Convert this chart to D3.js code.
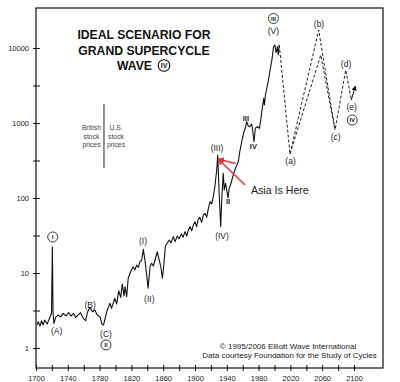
<!DOCTYPE html>
<html><head><meta charset="utf-8">
<script src="https://cdn.jsdelivr.net/npm/d3@7"></script>
<style>
body{margin:0;background:#fff}
svg{display:block}
text{font-family:"Liberation Sans",Arial,Helvetica,sans-serif}
</style>
</head><body>
<svg id="c" width="400" height="382"></svg>
<script>
// ---- data ----
const years = [1701,1703,1705,1707,1709,1711,1714,1717,1719.5,1720.6,1721.4,1722.5,1725,1728,1731,1734,1738,1741,1744,1747,1750,1753,1756,1759.5,1762.5,1765,1768,1771,1774,1777,1780.5,1783,1785,
 1789,1793,1795,1799,1801.5,1804,1806.5,1808.6,1810.6,1812,1814,1816,1819,1822,1824.5,1826.6,1828.7,1830.8,1833,1835,1837,1839,1841,1843.4,1845.5,1847.6,1849.7,1852.6,1855,1857,1859,1861,1862.7,1865,1867.7,1869.8,1872.7,1875,1877.8,1880,1883,
 1885,1887.5,1889.6,1891.6,1893.7,1895.8,1898,1900,1902,1904,1906,1908.4,1910.5,1912.6,1914.7,1916.8,1919,1921,1923,1925,1927.3,1928.6,1930.2,1932.3,1933.8,1935.5,1936.8,1938.5,1941.5,1943,1945.3,1947.4,1949.5,1951.6,1954.5,1956.6,1958.7,1961.6,1963.3,1965,1967,1969,1971.3,1972.5,1974.2,1975.9,1978.4,1981,1982.7,1984.3,1985.2,1986.5,1987.3,1988.6,1990.3,1992.4,1994.5,1996.7,1998.7,2000.4,2002,2003.6,2004.8,2006];
const values = [2.03,2.24,1.96,2.31,2.03,2.36,2.09,2.49,2.9,22.4,3.0,2.13,2.6,2.75,2.6,2.9,2.67,2.96,2.67,2.9,2.56,2.75,2.96,2.49,2.31,3.05,3.48,3.05,3.21,2.75,2.6,2.09,2.03,
 3.05,3.95,3.38,4.6,3.86,5.8,4.74,7.13,4.93,6.57,4.83,8.5,10.4,12.1,11,12.8,11.9,14.2,14.9,20.7,14.9,9.9,6.25,12.1,13.5,12.4,14.9,19.2,14.9,12.1,8.5,13.5,22.9,24.9,27.5,25.3,30.5,26.2,31.1,28.7,33.1,
 29.9,35.6,31.1,37.4,41.5,36.6,43.6,48.3,41.5,52,55.1,47.3,59.2,62.5,55.1,72.8,89.3,83.2,104,142,236,374,128,41.4,104,213,128,157,100,135,157,192,224,262,305,430,560,766,850,1042,912,893,970,807,563,850,893,850,1096,1490,1738,2133,1738,2362,2897,3744,5093,6918,10216,10965,8670,10418,8070,10965];

const projYears  = [2006, 2019.5, 2055.6, 2076.1, 2089.6, 2096.6];
const projValues = [10965, 386, 17380, 807, 5093, 2026];
const altYears   = [2019.5, 2058.2, 2076.1];
const altValues  = [386, 8070, 807];
const arrowYears  = [2096.6, 2101.7];
const arrowValues = [2026, 3113];

const yTickValues = [1, 10, 100, 1000, 10000];
const yMinorTicks = [3.162, 31.62, 316.2, 3162];
const xTickValues = d3.range(1700, 2101, 20);
const xLabelYears = [1700,1740,1780,1820,1860,1900,1940,1980,2020,2060,2100];

const waveLabels = [
 {t:"(A)",year:1726,value:1.66},{t:"(B)",year:1768,value:3.74},{t:"(C)",year:1788,value:1.54},
 {t:"(I)",year:1834.6,value:26.7},{t:"(II)",year:1842.5,value:4.5},{t:"(III)",year:1927.7,value:464},
 {t:"(IV)",year:1934,value:31.1},{t:"(V)",year:1998.7,value:16870},
 {t:"(a)",year:2020.2,value:311},{t:"(b)",year:2056,value:20900},{t:"(c)",year:2077,value:650},
 {t:"(d)",year:2090,value:6120},{t:"(e)",year:2097,value:1634}
];
const smallLabels = [{t:"II",year:1941.5,value:91.2},{t:"III",year:1964,value:1166},{t:"IV",year:1973.4,value:494}];
const circledLabels = [{t:"I",year:1721,value:30.2},{t:"II",year:1788,value:1.1},{t:"III",year:1998.7,value:24730},{t:"IV",year:2097.8,value:1096}];

const asiaArrowTip = {year:1929, value:331};
const asiaArrowTails = [{year:1963,value:149},{year:1951,value:288}];
const dividerYear = 1785.5, dividerValues = [1792, 251];

// ---- layout ----
const svg = d3.select("#c");
const L=36, R=383, T=8, B=368;
const x = d3.scaleLinear().domain([1700,2100]).range([36,354]);
const y = d3.scaleLog().domain([1,10000]).range([348,48]);

svg.append("rect").attr("x",L).attr("y",T).attr("width",R-L).attr("height",B-T)
  .attr("fill","none").attr("stroke","#111").attr("stroke-width",1.2);

// y axis
const yAx = svg.append("g").attr("transform",`translate(${L},0)`)
  .call(d3.axisLeft(y).tickValues(yTickValues.concat(yMinorTicks)).tickSize(3)
  .tickFormat(d => yTickValues.includes(d) ? d3.format("d")(d) : ""));
yAx.select(".domain").remove();
yAx.selectAll(".tick line").attr("x1",4).attr("x2",-3).attr("stroke","#111");
yAx.selectAll(".tick text").attr("x",-7).attr("font-size",7.5).attr("fill","#222")
  .attr("font-family","Liberation Sans, Arial, sans-serif");

// x axis
const xAx = svg.append("g").attr("transform",`translate(0,${B})`)
  .call(d3.axisBottom(x).tickValues(xTickValues).tickSize(3)
  .tickFormat(d => xLabelYears.includes(d) ? String(d) : ""));
xAx.select(".domain").remove();
xAx.selectAll(".tick line").attr("y1",-3).attr("y2",3).attr("stroke","#111");
xAx.selectAll(".tick text").attr("y",8).attr("font-size",7.5).attr("fill","#222")
  .attr("font-family","Liberation Sans, Arial, sans-serif");

// series
const pts = years.map((yr,i)=>[yr, values[i]]);
const line = d3.line().x(d=>x(d[0])).y(d=>y(d[1]));
svg.append("path").datum(pts).attr("d",line).attr("fill","none")
  .attr("stroke","#111").attr("stroke-width",1.1).attr("stroke-linejoin","round");

svg.append("path").datum(projYears.map((yr,i)=>[yr,projValues[i]])).attr("d",line)
  .attr("fill","none").attr("stroke","#222").attr("stroke-width",1).attr("stroke-dasharray","3,2");
svg.append("path").datum(altYears.map((yr,i)=>[yr,altValues[i]])).attr("d",line)
  .attr("fill","none").attr("stroke","#222").attr("stroke-width",1).attr("stroke-dasharray","3,2");

// markers
const defs = svg.append("defs");
defs.append("marker").attr("id","ah").attr("viewBox","0 0 10 10").attr("refX",9).attr("refY",5)
  .attr("markerWidth",5).attr("markerHeight",5).attr("orient","auto")
  .append("path").attr("d","M0,0L10,5L0,10z").attr("fill","#111");
defs.append("marker").attr("id","rh").attr("viewBox","0 0 10 10").attr("refX",9).attr("refY",5)
  .attr("markerWidth",4).attr("markerHeight",4).attr("orient","auto")
  .append("path").attr("d","M0,0L10,5L0,10z").attr("fill","#e0393e");

svg.append("path").datum(arrowYears.map((yr,i)=>[yr,arrowValues[i]])).attr("d",line)
  .attr("fill","none").attr("stroke","#111").attr("stroke-width",1).attr("marker-end","url(#ah)");

// red arrows
asiaArrowTails.forEach(t=>{
  svg.append("line").attr("x1",x(t.year)).attr("y1",y(t.value))
    .attr("x2",x(asiaArrowTip.year)).attr("y2",y(asiaArrowTip.value))
    .attr("stroke","#e0393e").attr("stroke-width",1.6).attr("marker-end","url(#rh)");
});
svg.append("text").attr("x",251).attr("y",194).attr("font-size",10.6).attr("fill","#222").text("Asia Is Here");

// wave labels
svg.append("g").selectAll("text").data(waveLabels).join("text")
  .attr("x",d=>x(d.year)).attr("y",d=>y(d.value)).attr("dy","0.35em")
  .attr("text-anchor","middle").attr("font-size",8.5).attr("fill","#222").text(d=>d.t);
svg.append("g").selectAll("text").data(smallLabels).join("text")
  .attr("x",d=>x(d.year)).attr("y",d=>y(d.value)).attr("dy","0.35em")
  .attr("text-anchor","middle").attr("font-size",7.5).attr("font-weight","bold").attr("fill","#222").text(d=>d.t);
const cg = svg.append("g").selectAll("g").data(circledLabels).join("g")
  .attr("transform",d=>`translate(${x(d.year)},${y(d.value)})`);
cg.append("circle").attr("r",5).attr("fill","#fff").attr("stroke","#222").attr("stroke-width",0.9);
cg.append("text").attr("dy","0.35em").attr("text-anchor","middle").attr("font-size",6)
  .attr("font-weight","bold").attr("fill","#222").text(d=>d.t);

// divider
svg.append("line").attr("x1",x(dividerYear)).attr("x2",x(dividerYear))
  .attr("y1",y(dividerValues[0])).attr("y2",y(dividerValues[1])).attr("stroke","#222").attr("stroke-width",1);
[["British",130],["stock",138.5],["prices",147]].forEach(([t,yy])=>
  svg.append("text").attr("x",91.5).attr("y",yy).attr("text-anchor","middle").attr("font-size",6.8).attr("fill","#444").text(t));
[["U.S.",130],["stock",138.5],["prices",147]].forEach(([t,yy])=>
  svg.append("text").attr("x",116).attr("y",yy).attr("text-anchor","middle").attr("font-size",6.8).attr("fill","#444").text(t));

// title
const tg = svg.append("g").attr("font-weight","bold").attr("font-size",12.2).attr("fill","#111");
tg.append("text").attr("x",144).attr("y",39).attr("text-anchor","middle").text("IDEAL SCENARIO FOR");
tg.append("text").attr("x",144).attr("y",55).attr("text-anchor","middle").text("GRAND SUPERCYCLE");
tg.append("text").attr("x",152).attr("y",70).attr("text-anchor","end").text("WAVE");
svg.append("circle").attr("cx",164).attr("cy",65.5).attr("r",5.8).attr("fill","none").attr("stroke","#111").attr("stroke-width",1.1);
svg.append("text").attr("x",164).attr("y",65.5).attr("dy","0.35em").attr("text-anchor","middle")
  .attr("font-size",7).attr("font-weight","bold").attr("fill","#111").text("IV");

// credits
svg.append("text").attr("x",288).attr("y",349).attr("text-anchor","middle").attr("font-size",8).attr("fill","#222")
  .text("© 1995/2006 Elliott Wave International");
svg.append("text").attr("x",289.5).attr("y",358).attr("text-anchor","middle").attr("font-size",8).attr("fill","#222")
  .text("Data courtesy Foundation for the Study of Cycles");
</script>
</body></html>
